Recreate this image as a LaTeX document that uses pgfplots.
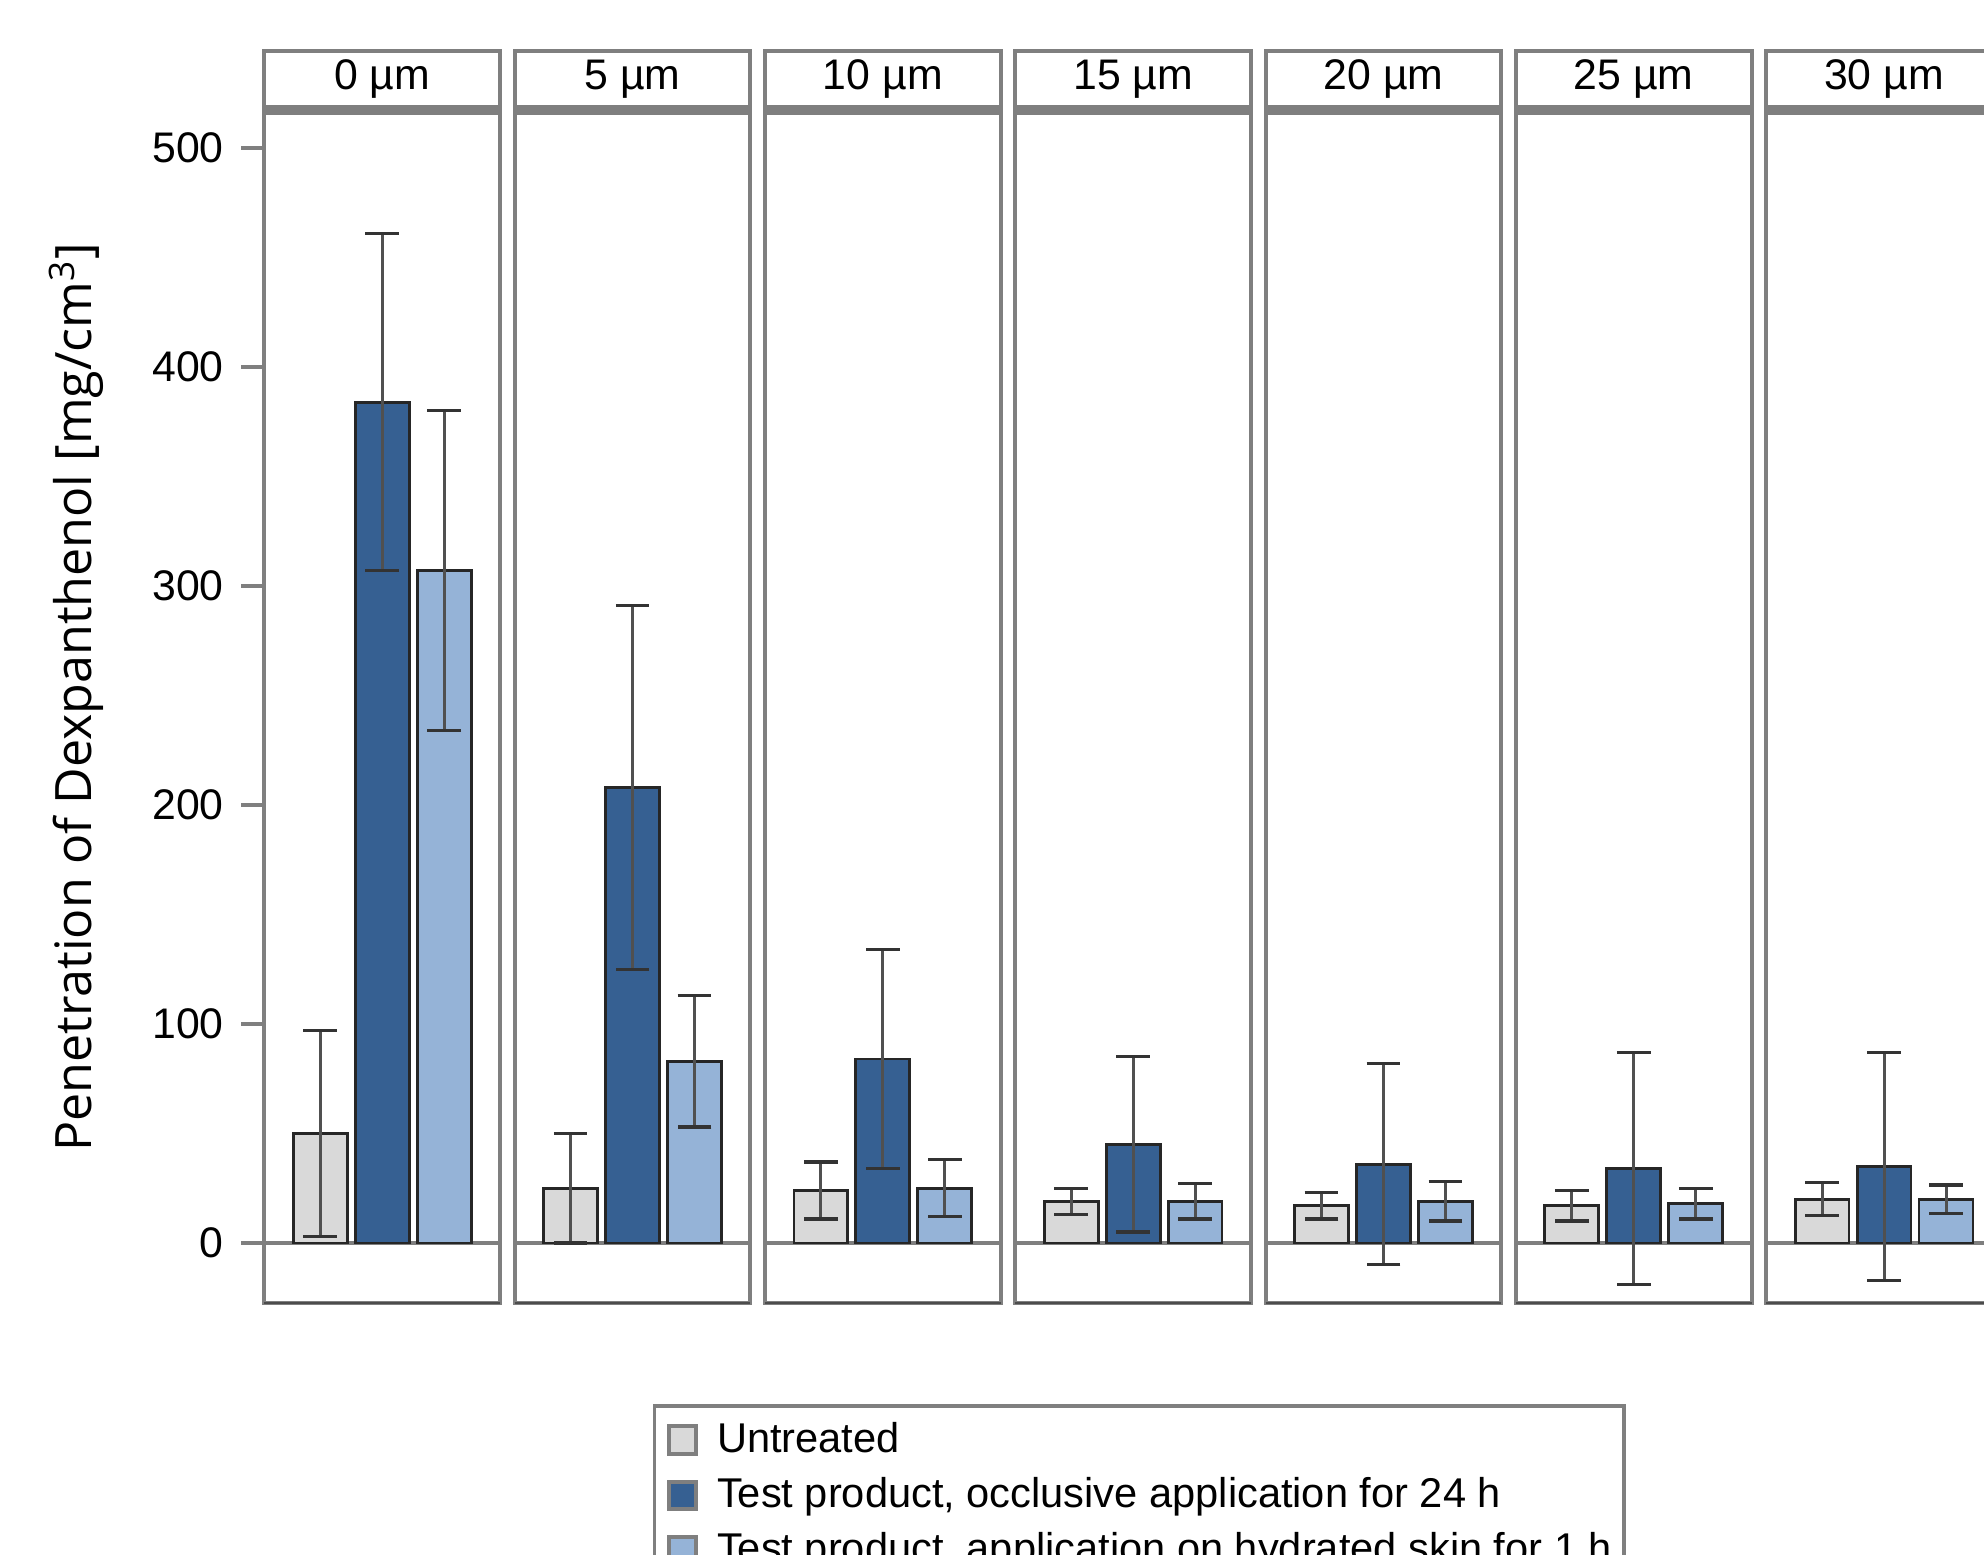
\documentclass[border=0pt]{standalone}
\usepackage{pgfplots}
\pgfplotsset{compat=1.18}
\usepackage{fontspec}
\setmainfont{Liberation Sans}
\newfontfamily\labelfont{Open Sans}
\definecolor{cU}{HTML}{D9D9D9}
\definecolor{cD}{HTML}{366092}
\definecolor{cL}{HTML}{95B3D7}
\definecolor{frame}{HTML}{7F7F7F}
\definecolor{errc}{HTML}{505050}

\pgfplotsset{
 panel/.style={
  scale only axis, width=58.875pt, height=298.25pt,
  xmin=0.1, xmax=3.9, ymin=-27.4, ymax=517.4,
  xtick=\empty, ytick=\empty,
  axis line style={draw=frame, line width=1pt},
  clip=false,
  ybar, bar shift=0pt, bar width=0.87,
  anchor=south west,
  error bars/y dir=both, error bars/y explicit,
  error bars/error bar style={errc, line width=0.75pt},
  error bars/error mark options={rotate=90, black!80, line width=0.8pt, mark size=4.2pt},
 },
 sq/.style={fill=#1, draw=black!85, line width=0.7pt,
   legend image code/.code={\draw[fill=#1, draw=frame, line width=1pt] (0pt,-3.4pt) rectangle (6.8pt,3.4pt);}},
}

\newcommand\panel[8]{%
\begin{axis}[panel,#1]
\draw[frame, line width=1pt] (axis cs:0.1,0) -- (axis cs:3.9,0);
\draw[frame, line width=1pt] (rel axis cs:0,1) rectangle (rel axis cs:1,1.0495);
\draw[frame, line width=2.5pt] (rel axis cs:0,1) -- (rel axis cs:1,1);
\draw[black!70, line width=0.7pt] (rel axis cs:0,0) -- (rel axis cs:1,0);
\node[anchor=base, inner sep=0pt, font=\fontsize{10.7}{12}\selectfont] at (rel axis cs:0.5,1.0168) {#2};
\addplot[sq=cU] coordinates {(1,#3) +- (0,#4)};
\addplot[sq=cD] coordinates {(2,#5) +- (0,#6)};
\addplot[sq=cL] coordinates {(3,#7) +- (0,#8)};
\end{axis}}

\begin{document}
\begin{tikzpicture}
\panel{at={(66.125pt,63pt)},
  ytick={0,100,200,300,400,500}, ytick pos=left, tick align=outside,
  major tick length=5.75pt, tick style={draw=frame, line width=1pt},
  yticklabel style={font=\fontsize{10.7}{12}\selectfont, inner sep=0pt, xshift=-4.25pt},
  /pgf/number format/assume math mode=true,
  ylabel={\labelfont Penetration of Dexpanthenol [mg/cm\textsuperscript{3}]},
  ylabel style={at={(axis description cs:-0.80,0.5075)}, anchor=center, font=\fontsize{12.55}{14}\selectfont},
  legend entries={Untreated, {Test product, occlusive application for 24 h}, {Test product, application on hydrated skin for 1 h}},
  legend style={at={(axis description cs:1.65,-0.085)}, anchor=north west, draw=frame, line width=0.8pt,
    font=\fontsize{10.4}{12}\selectfont, inner xsep=3pt, inner ysep=2pt, row sep=0.8pt,
    nodes={inner xsep=0pt}, /tikz/every odd column/.append style={column sep=4.8pt}},
  legend cell align=left,
 }{0 µm}{50}{47}{384}{77}{307}{73}
\panel{at={(66.125pt+62.575pt,63pt)}}{5 µm}{25}{25}{208}{83}{83}{30}
\panel{at={(66.125pt+2*62.575pt,63pt)}}{10 µm}{24}{13}{84}{50}{25}{13}
\panel{at={(66.125pt+3*62.575pt,63pt)}}{15 µm}{19}{6}{45}{40}{19}{8}
\panel{at={(66.125pt+4*62.575pt,63pt)}}{20 µm}{17}{6}{36}{46}{19}{9}
\panel{at={(66.125pt+5*62.575pt,63pt)}}{25 µm}{17}{7}{34}{53}{18}{7}
\panel{at={(66.125pt+6*62.575pt,63pt)}}{30 µm}{20}{7.5}{35}{52}{20}{6.5}
\pgfresetboundingbox
\path[use as bounding box] (0,0) rectangle (496pt,388.75pt);
\end{tikzpicture}
\end{document}
